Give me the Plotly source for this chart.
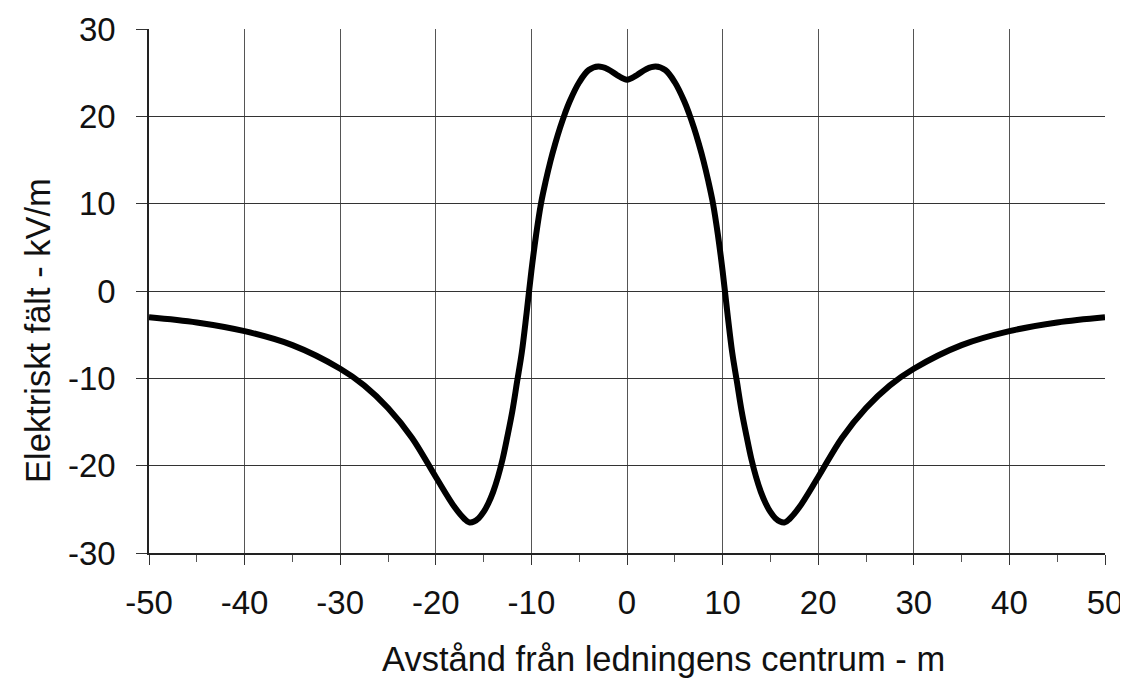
import plotly.graph_objects as go

# Distance from line centre (m)
x_m = [-50, -45, -40, -35, -30, -27.5, -25, -22.5, -20, -18, -17, -16.5, -16, -15.5, -15, -14.5, -14,
       -13.5, -13, -12.5, -12, -11.5, -11, -10.5, -10, -9.5, -9, -8.5, -8, -7.5, -7, -6.5, -6, -5, -4, -3, -2, -1, 0,
       1, 2, 3, 4, 5, 6, 6.5, 7, 7.5, 8, 8.5, 9, 9.5, 10, 10.5, 11, 11.5, 12, 12.5, 13, 13.5,
       14, 14.5, 15, 15.5, 16, 16.5, 17, 18, 20, 22.5, 25, 27.5, 30, 35, 40, 45, 50]
# Electric field (kV/m)
e_kvm = [-3.0, -3.6, -4.6, -6.2, -8.9, -10.8, -13.4, -16.8, -21.3, -24.8, -26.1, -26.5, -26.4, -26.0, -25.3, -24.3, -23.0,
         -21.3, -19.2, -16.6, -13.8, -10.4, -7.0, -2.5, 2.3, 6.5, 10.0, 12.6, 14.9, 16.9, 18.7, 20.3, 21.7, 23.9, 25.3, 25.7, 25.4, 24.7, 24.2,
         24.7, 25.4, 25.7, 25.3, 23.9, 21.7, 20.3, 18.7, 16.9, 14.9, 12.6, 10.0, 6.5, 2.3, -2.5, -7.0, -10.4, -13.8, -16.6, -19.2, -21.3,
         -23.0, -24.3, -25.3, -26.0, -26.4, -26.5, -26.1, -24.8, -21.3, -16.8, -13.4, -10.8, -8.9, -6.2, -4.6, -3.6, -3.0]

x_ticks = [-50, -40, -30, -20, -10, 0, 10, 20, 30, 40, 50]
y_ticks = [-30, -20, -10, 0, 10, 20, 30]

x_title = "Avstånd från ledningens centrum - m"
y_title = "Elektriskt fält - kV/m"

FONT = "Liberation Sans, Arial, sans-serif"

fig = go.Figure()
fig.add_trace(go.Scatter(
    x=x_m, y=e_kvm, mode="lines",
    line=dict(color="#000000", width=6, shape="spline", smoothing=1.0),
    hoverinfo="skip", showlegend=False,
))

# page has an 8px body margin, so the figure is sized/margined to land the plot where the reference has it
fig.update_layout(
    width=1120, height=672,
    margin=dict(l=141, r=23, t=21, b=127),
    paper_bgcolor="white", plot_bgcolor="white",
    font=dict(family=FONT, size=33, color="#111111"),
    showlegend=False,
    annotations=[
        dict(text=x_title, xref="paper", yref="paper", x=0.538, y=-0.202,
             xanchor="center", yanchor="middle", showarrow=False,
             font=dict(family=FONT, size=34.5, color="#111111")),
        dict(text=y_title, xref="paper", yref="paper", x=-0.116, y=0.424,
             xanchor="center", yanchor="middle", showarrow=False, textangle=-90,
             font=dict(family=FONT, size=34.5, color="#111111")),
    ],
)

fig.update_xaxes(
    range=[-50, 50], tickvals=x_ticks, ticktext=[str(v) for v in x_ticks],
    automargin=False,
    showgrid=True, gridcolor="#555555", gridwidth=1,
    showline=True, linecolor="#222222", linewidth=1.5, mirror=False,
    ticks="outside", ticklen=10, tickwidth=1, tickcolor="#333333",
    ticklabelstandoff=10,
    minor=dict(dtick=5, tick0=0, ticks="outside", ticklen=7, tickcolor="#555555", showgrid=False),
    zeroline=False, tickfont=dict(family=FONT, size=33, color="#111111"),
)
fig.update_yaxes(
    range=[-30, 30], tickvals=y_ticks, ticktext=[str(v) for v in y_ticks],
    automargin=False,
    showgrid=True, gridcolor="#333333", gridwidth=1,
    showline=True, linecolor="#222222", linewidth=1.5, mirror=False,
    ticks="outside", ticklen=11, tickwidth=1, tickcolor="#333333",
    ticklabelstandoff=14,
    zeroline=False, tickfont=dict(family=FONT, size=33, color="#111111"),
)

fig.write_html("out.html")
